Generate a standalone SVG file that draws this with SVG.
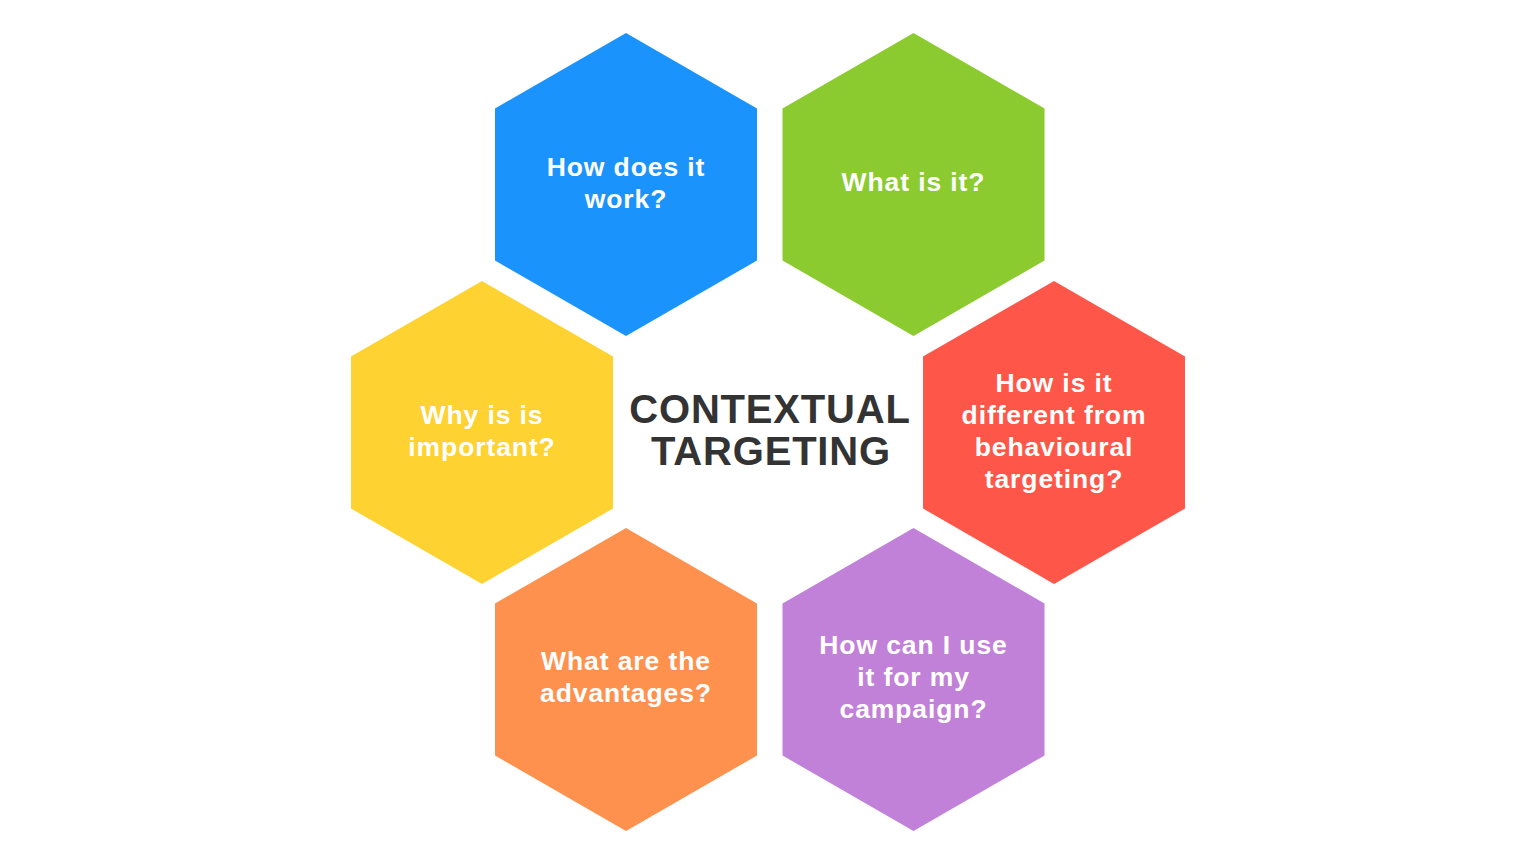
<svg xmlns="http://www.w3.org/2000/svg" xmlns:xlink="http://www.w3.org/1999/xlink" width="1536" height="864" viewBox="0 0 1536 864">
<defs>
<polygon id="hex" points="0,-151.5 131,-76 131,76 0,151.5 -131,76 -131,-76"/>
</defs>
<style>
.lbl{font-family:"Liberation Sans",Arial,sans-serif;font-weight:700;font-size:26.5px;fill:#ffffff;text-anchor:middle;letter-spacing:0.9px}
.title{font-family:"Liberation Sans",Arial,sans-serif;font-weight:700;font-size:40px;fill:#333333;text-anchor:middle;letter-spacing:0.8px}
</style>
<rect width="1536" height="864" fill="#ffffff"/>
<g id="connectors"></g>
<g id="how-does-it-work">
<use href="#hex" x="626" y="184.5" fill="#1b93fc"/>
<text class="lbl" x="626" y="176">How does it</text>
<text class="lbl" x="626" y="208">work?</text>
</g>
<g id="what-is-it">
<use href="#hex" x="913.5" y="184.5" fill="#8bcb2f"/>
<text class="lbl" x="913.5" y="191">What is it?</text>
</g>
<g id="why-important">
<use href="#hex" x="482" y="432.5" fill="#fdd231"/>
<text class="lbl" x="482" y="424">Why is is</text>
<text class="lbl" x="482" y="456">important?</text>
</g>
<g id="how-different">
<use href="#hex" x="1054" y="432.5" fill="#fe5649"/>
<text class="lbl" x="1054" y="392">How is it</text>
<text class="lbl" x="1054" y="424">different from</text>
<text class="lbl" x="1054" y="456">behavioural</text>
<text class="lbl" x="1054" y="488">targeting?</text>
</g>
<g id="advantages">
<use href="#hex" x="626" y="679.5" fill="#ff914e"/>
<text class="lbl" x="626" y="670">What are the</text>
<text class="lbl" x="626" y="702">advantages?</text>
</g>
<g id="campaign">
<use href="#hex" x="913.5" y="679.5" fill="#c281d8"/>
<text class="lbl" x="913.5" y="654">How can I use</text>
<text class="lbl" x="913.5" y="686">it for my</text>
<text class="lbl" x="913.5" y="718">campaign?</text>
</g>
<g id="center">
<text class="title" x="770" y="423">CONTEXTUAL</text>
<text class="title" x="771" y="465">TARGETING</text>
</g>
</svg>
